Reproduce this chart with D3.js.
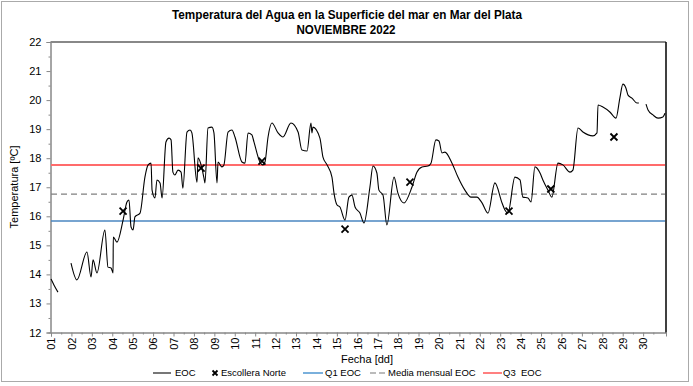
<!DOCTYPE html>
<html>
<head>
<meta charset="utf-8">
<script src="https://cdn.jsdelivr.net/npm/d3@7"></script>
<style>
  body { margin: 0; background: #fff; }
  svg { display: block; font-family: "Liberation Sans", Arial, sans-serif; }
</style>
</head>
<body>
<svg id="chart"></svg>
<script>
// EOC record (day of month, ºC); null marks a gap in the record
const eocDays = [1.00, 1.15, 1.34, null,
  1.98, 2.27, 2.76, 2.96, 3.06, 3.25, 3.64, 3.79, 3.94, 4.04, 4.05, 4.23, 4.53, 4.72, 4.82, 4.92,
  5.02, 5.11, 5.36, 5.60, 5.75, 5.90, 5.95, 6.09, 6.19, 6.34, 6.44, 6.63, 6.78, 6.88, 6.97, 7.07,
  7.22, 7.37, 7.46, 7.66, 7.81, 7.90, 8.15, 8.20, 8.39, 8.49, 8.54, 8.69, 8.88, 8.98, 9.13, 9.18,
  9.37, 9.47, 9.67, 9.86, 10.01, 10.35, 10.50, 10.65, 10.84, 10.94, 11.23, 11.38, 11.48, 11.63,
  11.82, 12.12, 12.36, 12.75, 13.10, 13.29, 13.54, 13.73, 13.78, 13.83, 14.17, 14.32, 14.52, 14.76,
  14.86, 15.01, 15.15, 15.40, 15.59, 15.74, 15.89, 16.13, 16.33, 16.62, 16.77, 16.96, 17.06, 17.26,
  17.45, 17.80, 17.99, 18.29, 18.68, 18.92, 19.17, 19.46, 19.61, 19.85, 20.00, 20.15, 20.29, 20.64,
  20.93, 21.27, 21.57, 21.86, 22.11, 22.40, 22.74, 23.09, 23.23, 23.38, 23.72, 23.97, 24.11, 24.36,
  24.51, 24.70, 24.95, 25.09, 25.34, 25.53, 25.83, 26.07, 26.42, 26.56, 26.81, 27.05, 27.54, 27.74,
  27.79, 28.03, 28.37, 28.67, 28.86, 29.01, 29.16, 29.26, 29.45, 29.70, 29.79, null,
  30.14, 30.24, 30.48, 30.73, 30.97, 31.07];
const eocTemps = [13.84, 13.63, 13.39, null,
  14.39, 13.81, 14.77, 13.91, 14.50, 14.05, 15.53, 14.25, 14.22, 14.05, 15.29, 15.11, 15.87, 16.49, 16.56, 15.63,
  15.53, 15.98, 16.11, 17.35, 17.76, 17.83, 16.90, 16.63, 17.25, 17.15, 16.63, 18.56, 18.69, 18.63, 17.52, 17.42,
  17.59, 17.52, 16.97, 18.90, 18.97, 18.87, 17.17, 18.01, 17.66, 17.32, 17.15, 19.04, 19.07, 18.87, 17.15, 17.87,
  17.70, 17.77, 18.90, 18.97, 18.73, 17.87, 17.83, 18.87, 18.80, 18.56, 17.87, 17.77, 17.87, 18.73,
  19.21, 18.87, 18.73, 19.21, 18.90, 18.28, 18.25, 19.21, 18.87, 19.07, 18.69, 18.04, 17.77, 17.35,
  16.80, 16.39, 16.32, 15.87, 16.66, 16.73, 16.32, 16.11, 15.77, 17.01, 17.73, 17.49, 16.90, 16.73,
  15.70, 17.35, 16.80, 16.46, 17.01, 17.52, 17.70, 17.73, 17.83, 18.63, 18.59, 18.18, 18.21, 17.83,
  17.35, 16.90, 16.66, 16.66, 16.46, 16.11, 17.15, 16.46, 16.22, 16.11, 17.35, 17.25, 16.66, 16.63,
  16.49, 17.70, 17.49, 17.25, 16.90, 16.66, 17.83, 17.77, 17.52, 17.59, 19.04, 18.90, 18.77, 18.87,
  19.83, 19.76, 19.59, 19.38, 20.07, 20.55, 20.41, 20.17, 20.07, 19.90, 19.90, null,
  19.86, 19.66, 19.49, 19.38, 19.42, 19.55];

// Escollera Norte spot readings
const escDays = [4.53, 8.35, 11.33, 15.40, 18.58, 23.43, 25.48, 28.57];
const escTemps = [16.18, 17.66, 17.90, 15.56, 17.18, 16.18, 16.94, 18.73];

// monthly statistics of EOC
const q1Eoc = 15.84;
const mediaEoc = 16.76;
const q3Eoc = 17.77;

const dayTicks = d3.range(1, 31);
const tempTicks = d3.range(12, 23);

class SstChart {
  constructor(_config) {
    this.config = {
      parentElement: _config.parentElement,
      containerWidth: _config.containerWidth || 693,
      containerHeight: _config.containerHeight || 386,
      plot: { left: 51, right: 666, top: 42, bottom: 332.5 }
    }
    this.initVis();
  }

  initVis() {
    let vis = this;
    let p = vis.config.plot;

    vis.svg = d3.select(vis.config.parentElement)
      .attr('width', vis.config.containerWidth)
      .attr('height', vis.config.containerHeight);

    // outer frame
    vis.svg.append('rect')
      .attr('x', 1.5).attr('y', 1.5)
      .attr('width', 687).attr('height', 380)
      .attr('fill', '#fff')
      .attr('stroke', '#aaa');

    // title (narrow bold, squeezed to the original width)
    let title = vis.svg.append('g')
      .attr('font-family', '"Liberation Sans Narrow", "Arial Narrow", sans-serif')
      .attr('font-weight', 'bold')
      .attr('font-size', '12.5px')
      .attr('text-anchor', 'middle');
    title.append('text').attr('x', 347).attr('y', 19)
      .attr('textLength', 350).attr('lengthAdjust', 'spacingAndGlyphs')
      .text('Temperatura del Agua en la Superficie del mar en Mar del Plata');
    title.append('text').attr('x', 346).attr('y', 34)
      .attr('textLength', 99).attr('lengthAdjust', 'spacingAndGlyphs')
      .text('NOVIEMBRE 2022');

    vis.x = d3.scaleLinear().domain([1, 31.12]).range([p.left, p.right]);
    vis.y = d3.scaleLinear().domain([12, 22]).range([p.bottom, p.top]);

    // y axis, major + half-degree minor ticks
    vis.svg.append('g')
      .attr('class', 'y-axis')
      .attr('transform', `translate(${p.left - 0.5},0)`)
      .call(d3.axisLeft(vis.y).tickValues(d3.range(12.5, 22, 1)).tickSize(2).tickFormat(''));
    vis.svg.append('g')
      .attr('class', 'y-axis')
      .attr('transform', `translate(${p.left - 0.5},0)`)
      .call(d3.axisLeft(vis.y).tickValues(tempTicks).tickSize(4).tickPadding(5).tickFormat(d3.format('d')));

    // x axis
    vis.svg.append('g')
      .attr('class', 'x-axis')
      .attr('transform', `translate(0,${p.bottom})`)
      .call(d3.axisBottom(vis.x).tickValues(d3.range(1.5, 31, 1)).tickSize(2).tickFormat(''));
    vis.xAxisG = vis.svg.append('g')
      .attr('class', 'x-axis')
      .attr('transform', `translate(0,${p.bottom})`)
      .call(d3.axisBottom(vis.x).tickValues(dayTicks).tickSize(4).tickFormat(d => String(d).padStart(2, '0')));
    vis.xAxisG.selectAll('.tick text')
      .attr('transform', 'rotate(-90)')
      .attr('text-anchor', 'end')
      .attr('x', -5).attr('y', 0)
      .attr('dy', '0.35em');

    vis.svg.selectAll('.x-axis path, .y-axis path, .x-axis line, .y-axis line')
      .attr('stroke', '#888');
    vis.svg.selectAll('.x-axis text, .y-axis text')
      .attr('font-size', '11px')
      .attr('fill', '#000')
      .attr('font-family', '"Liberation Sans", Arial, sans-serif');

    // plot frame top and right
    vis.svg.append('line')
      .attr('x1', p.left - 0.5).attr('x2', p.right)
      .attr('y1', p.top).attr('y2', p.top)
      .attr('stroke', '#888').attr('stroke-width', 2);
    vis.svg.append('line')
      .attr('x1', p.right).attr('x2', p.right)
      .attr('y1', p.top).attr('y2', p.bottom)
      .attr('stroke', '#000').attr('stroke-width', 1.5);

    // axis titles
    vis.svg.append('text')
      .attr('transform', 'translate(18,187) rotate(-90)')
      .attr('text-anchor', 'middle')
      .attr('font-size', '11px')
      .text('Temperatura [ºC]');
    vis.svg.append('text')
      .attr('x', 367).attr('y', 363)
      .attr('text-anchor', 'middle')
      .attr('font-size', '11px')
      .text('Fecha [dd]');

    vis.updateVis();
  }

  updateVis() {
    let vis = this;
    let p = vis.config.plot;

    // reference lines
    let refs = [
      { v: q1Eoc, color: '#4a86c0', width: 1.5, dash: null },
      { v: mediaEoc, color: '#808080', width: 1.2, dash: '6,4' },
      { v: q3Eoc, color: '#ff6b6b', width: 2, dash: null }
    ];
    vis.svg.append('g').selectAll('line')
      .data(refs)
      .join('line')
      .attr('x1', p.left).attr('x2', p.right - 1)
      .attr('y1', d => vis.y(d.v)).attr('y2', d => vis.y(d.v))
      .attr('stroke', d => d.color)
      .attr('stroke-width', d => d.width)
      .attr('stroke-dasharray', d => d.dash);

    let eoc = eocDays.map((d, i) => ({ day: d, temp: eocTemps[i] }));
    let line = d3.line()
      .defined(d => d.temp != null)
      .curve(d3.curveMonotoneX)
      .x(d => vis.x(d.day))
      .y(d => vis.y(d.temp));
    vis.svg.append('path')
      .datum(eoc)
      .attr('fill', 'none')
      .attr('stroke', '#000')
      .attr('stroke-width', 1.1)
      .attr('stroke-linejoin', 'round')
      .attr('d', line);

    let cross = 'M-3.5,-3.5L3.5,3.5M-3.5,3.5L3.5,-3.5';
    let esc = escDays.map((d, i) => ({ day: d, temp: escTemps[i] }));
    vis.svg.append('g').selectAll('path')
      .data(esc)
      .join('path')
      .attr('transform', d => `translate(${vis.x(d.day)},${vis.y(d.temp)})`)
      .attr('d', cross)
      .attr('stroke', '#000')
      .attr('stroke-width', 1.8);

    // legend
    let lg = vis.svg.append('g')
      .attr('transform', 'translate(0,373)')
      .attr('font-size', '9.5px');
    lg.append('line').attr('x1', 153).attr('x2', 171).attr('stroke', '#777').attr('stroke-width', 2);
    lg.append('text').attr('x', 175).attr('dy', '0.35em').text('EOC');
    lg.append('path').attr('transform', 'translate(215,0)')
      .attr('d', 'M-2.5,-2.5L2.5,2.5M-2.5,2.5L2.5,-2.5')
      .attr('stroke', '#000').attr('stroke-width', 1.8);
    lg.append('text').attr('x', 221).attr('dy', '0.35em').text('Escollera Norte');
    lg.append('line').attr('x1', 303).attr('x2', 323).attr('stroke', '#7ab0dc').attr('stroke-width', 2);
    lg.append('text').attr('x', 325).attr('dy', '0.35em').text('Q1 EOC');
    lg.append('line').attr('x1', 370).attr('x2', 388).attr('stroke', '#bbb')
      .attr('stroke-width', 2).attr('stroke-dasharray', '6,3');
    lg.append('text').attr('x', 388).attr('dy', '0.35em').text('Media mensual EOC');
    lg.append('line').attr('x1', 483).attr('x2', 502).attr('stroke', '#ff8080').attr('stroke-width', 2);
    lg.append('text').attr('x', 503).attr('dy', '0.35em').text('Q3  EOC').attr('xml:space', 'preserve');
  }
}

new SstChart({ parentElement: '#chart' });
</script>
</body>
</html>
